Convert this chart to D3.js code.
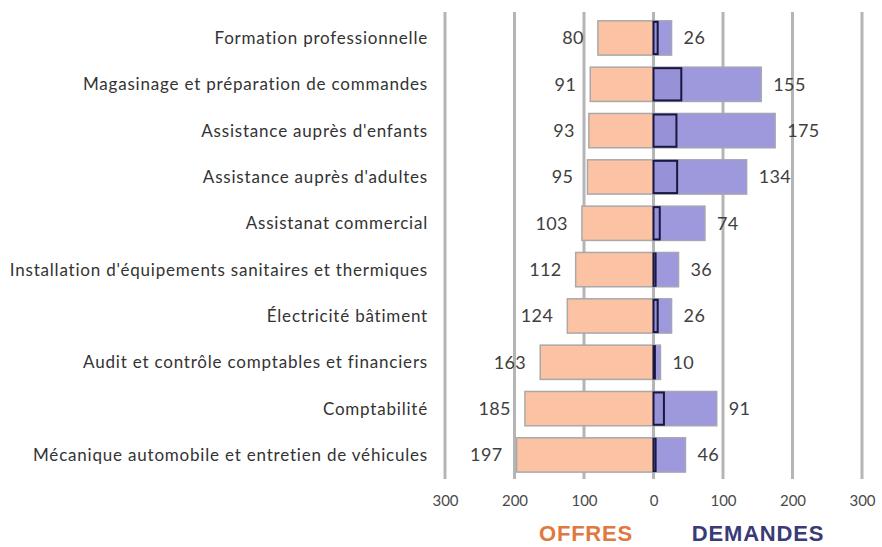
<!DOCTYPE html>
<html><head><meta charset="utf-8">
<script src="https://cdn.jsdelivr.net/npm/d3@7"></script>
<style>body{margin:0;background:#fff}svg{display:block}</style>
</head><body>
<script>
const categories = [
  "Formation professionnelle",
  "Magasinage et préparation de commandes",
  "Assistance auprès d'enfants",
  "Assistance auprès d'adultes",
  "Assistanat commercial",
  "Installation d'équipements sanitaires et thermiques",
  "Électricité bâtiment",
  "Audit et contrôle comptables et financiers",
  "Comptabilité",
  "Mécanique automobile et entretien de véhicules"
];
const offres   = [80, 91, 93, 95, 103, 112, 124, 163, 185, 197];
const demandes = [26, 155, 175, 134, 74, 36, 26, 10, 91, 46];
const demandesDetail = [6, 40, 33, 34, 9, 3, 6, 2, 15, 3];
const tickValues = [-300, -200, -100, 0, 100, 200, 300];
const tickLabels = ["300", "200", "100", "0", "100", "200", "300"];

const W = 882, H = 547;
const svg = d3.select("body").append("svg").attr("width", W).attr("height", H);

const x = d3.scaleLinear().domain([-300, 300]).range([445, 862]);
const y = d3.scaleBand().domain(categories).range([14.8, 478.1])
  .paddingInner(0.26).paddingOuter(0.13);

// gridlines
svg.append("g").selectAll("line").data(tickValues).join("line")
  .attr("x1", d => x(d)).attr("x2", d => x(d))
  .attr("y1", 12).attr("y2", 479)
  .attr("stroke", "#b5b5b5").attr("stroke-width", 3);

// axis labels
const axis = d3.axisBottom(x).tickValues(tickValues)
  .tickFormat((d, i) => tickLabels[i]).tickSize(0).tickPadding(0);
const ax = svg.append("g").attr("transform", "translate(0,495)").call(axis);
ax.select(".domain").remove();
ax.selectAll("text").attr("font-family", "Lato, sans-serif").attr("font-size", 15)
  .attr("fill", "#4a4a4a").attr("dy", "0.71em");

const rows = categories.map((c, i) => ({c, o: offres[i], d: demandes[i], k: demandesDetail[i]}));

// offres bars
svg.append("g").selectAll("rect").data(rows).join("rect")
  .attr("x", d => x(-d.o)).attr("width", d => x(0) - x(-d.o))
  .attr("y", d => y(d.c)).attr("height", y.bandwidth())
  .attr("fill", "#fbc2a4").attr("stroke", "#a9a9a9").attr("stroke-width", 1.5);

// demandes bars
svg.append("g").selectAll("rect").data(rows).join("rect")
  .attr("x", x(0)).attr("width", d => x(d.d) - x(0))
  .attr("y", d => y(d.c)).attr("height", y.bandwidth())
  .attr("fill", "#9e99dc").attr("stroke", "#a5a5b5").attr("stroke-width", 1.5);

// inner detail bars
svg.append("g").selectAll("rect").data(rows).join("rect")
  .attr("x", x(0)).attr("width", d => x(d.k) - x(0))
  .attr("y", d => y(d.c) + 1).attr("height", y.bandwidth() - 2)
  .attr("fill", "#9791d8").attr("stroke", "#17173f").attr("stroke-width", 2);

// value labels
const lab = svg.append("g").attr("font-family", "Lato, sans-serif").attr("font-size", 18)
  .attr("letter-spacing", "0.4px").attr("fill", "#404040");
lab.selectAll("text.o").data(rows).join("text").attr("class", "o")
  .attr("x", d => x(-d.o) - 14).attr("y", d => y(d.c) + y.bandwidth() / 2)
  .attr("dy", "0.35em").attr("text-anchor", "end").text(d => d.o);
lab.selectAll("text.d").data(rows).join("text").attr("class", "d")
  .attr("x", d => x(d.d) + 12).attr("y", d => y(d.c) + y.bandwidth() / 2)
  .attr("dy", "0.35em").attr("text-anchor", "start").text(d => d.d);

// category labels
svg.append("g").selectAll("text").data(categories).join("text")
  .attr("x", 428).attr("y", d => y(d) + y.bandwidth() / 2).attr("dy", "0.35em")
  .attr("text-anchor", "end").attr("font-family", "Lato, sans-serif")
  .attr("font-size", 17).attr("letter-spacing", "0.8px").attr("fill", "#333").text(d => d);

// series titles
svg.append("text").attr("x", 586).attr("y", 541).attr("text-anchor", "middle")
  .attr("font-family", "Liberation Sans, Arial, sans-serif").attr("font-weight", "bold")
  .attr("font-size", 22).attr("letter-spacing", "0.8px").attr("fill", "#e0783f").text("OFFRES");
svg.append("text").attr("x", 758).attr("y", 541).attr("text-anchor", "middle")
  .attr("font-family", "Liberation Sans, Arial, sans-serif").attr("font-weight", "bold")
  .attr("font-size", 22).attr("letter-spacing", "0.8px").attr("fill", "#3a3a78").text("DEMANDES");
</script>
</body></html>
